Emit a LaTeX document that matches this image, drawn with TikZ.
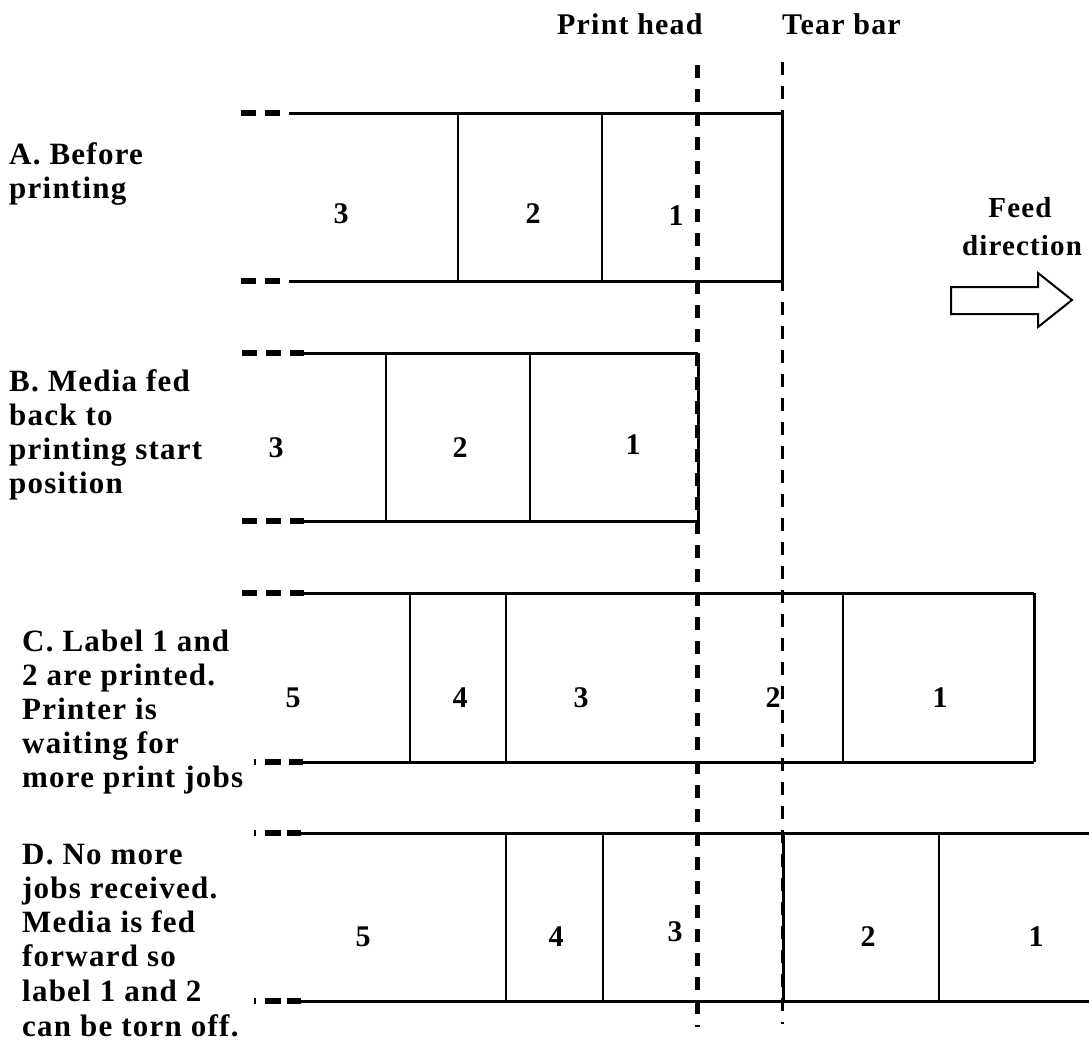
\documentclass[tikz,border=0pt]{standalone}
\usepackage{fontspec}
\setmainfont{Liberation Serif}[LetterSpace=4.0]
\begin{document}
\begin{tikzpicture}[x=1pt,y=-1pt,
  band/.style={line width=3pt},
  divider/.style={line width=2pt},
  lead/.style={line width=6pt, dash pattern=on 15pt off 9pt},
  headline/.style={line width=5pt, dash pattern=on 13pt off 11pt},
  tearline/.style={line width=3pt, dash pattern=on 13pt off 11pt},
  txt/.style={anchor=base west, inner sep=0pt, font=\fontsize{31}{34}\selectfont\bfseries},
  ttxt/.style={anchor=base west, inner sep=0pt, font=\fontsize{30}{34}\selectfont\bfseries},
  ctxt/.style={anchor=base, inner sep=0pt, font=\fontsize{29}{34}\selectfont\bfseries},
  num/.style={inner sep=0pt, font=\fontsize{30}{32}\selectfont\bfseries},
  feed/.style={line width=2pt, fill=white, line join=miter}]
\useasboundingbox (0,0) rectangle (1089,1061);

% titles
\node[ttxt] (ph) at (557,34) {Print head};
\node[ttxt] (tb) at (782,34) {Tear bar};

% feed direction
\node[ctxt] (feed1) at (1020,217) {Feed};
\node[ctxt] (feed2) at (1022,255) {direction};
\draw[feed] (951,287) -- (1038,287) -- (1038,273) -- (1072,300) -- (1038,327) -- (1038,314) -- (951,314) -- cycle;

% left labels
\node[txt] (a1) at (9,164) {A. Before};
\node[txt] (a2) at (9,198) {printing};
\node[txt] (b1) at (9,391) {B. Media fed};
\node[txt] (b2) at (9,425) {back to};
\node[txt] (b3) at (9,459) {printing start};
\node[txt] (b4) at (9,493) {position};
\node[txt] (c1) at (22,651) {C. Label 1 and};
\node[txt] (c2) at (22,685) {2 are printed.};
\node[txt] (c3) at (22,719) {Printer is};
\node[txt] (c4) at (22,753) {waiting for};
\node[txt] (c5) at (22,787) {more print jobs};
\node[txt] (d1) at (22,864) {D. No more};
\node[txt] (d2) at (22,898) {jobs received.};
\node[txt] (d3) at (22,932) {Media is fed};
\node[txt] (d4) at (22,966) {forward so};
\node[txt] (d5) at (22,1001) {label 1 and 2};
\node[txt] (d6) at (22,1036) {can be torn off.};

% Row A
\draw[lead] (241,113) -- (282,113);
\draw[lead] (241,281) -- (282,281);
\draw[band] (289,113) -- (782,113);
\draw[band] (289,281) -- (782,281);
\draw[divider] (458,113) -- (458,281);
\draw[divider] (602,113) -- (602,281);
\draw[band] (782,113) -- (782,281);
\node[num] (a3n) at (341,214) {3};
\node[num] (a2n) at (533,214) {2};
\node[num] (a1n) at (676,216) {1};

% Row B
\draw[lead] (242,353) -- (304,353);
\draw[lead] (242,521) -- (304,521);
\draw[band] (303,353) -- (698,353);
\draw[band] (303,521) -- (698,521);
\draw[divider] (386,353) -- (386,521);
\draw[divider] (530,353) -- (530,521);
\draw[band] (698,353) -- (698,521);
\node[num] (b3n) at (276,448) {3};
\node[num] (b2n) at (460,448) {2};
\node[num] (b1n) at (633,445) {1};

% Row C
\draw[lead] (242,593) -- (304,593);
\draw[lead, dash pattern=on 2pt off 9pt on 16pt off 8pt on 14pt off 50pt] (254,762) -- (304,762);
\draw[band] (303,593) -- (1034,593);
\draw[band] (303,762) -- (1034,762);
\draw[divider] (410,593) -- (410,762);
\draw[divider] (506,593) -- (506,762);
\draw[divider] (843,593) -- (843,762);
\draw[band] (1034,593) -- (1034,762);
\node[num] (c5n) at (293,698) {5};
\node[num] (c4n) at (460,698) {4};
\node[num] (c3n) at (581,698) {3};
\node[num] (c2n) at (773,698) {2};
\node[num] (c1n) at (940,698) {1};

% Row D
\draw[lead, dash pattern=on 2pt off 9pt on 16pt off 6pt on 14pt off 50pt] (254,833) -- (302,833);
\draw[lead, dash pattern=on 2pt off 9pt on 16pt off 6pt on 14pt off 50pt] (254,1001) -- (302,1001);
\draw[band] (301,833) -- (1089,833);
\draw[band] (301,1001) -- (1089,1001);
\draw[divider] (506,833) -- (506,1001);
\draw[divider] (603,833) -- (603,1001);
\draw[band] (783,833) -- (783,1001);
\draw[divider] (939,833) -- (939,1001);
\node[num] (d5n) at (363,937) {5};
\node[num] (d4n) at (556,937) {4};
\node[num] (d3n) at (675,932) {3};
\node[num] (d2n) at (868,937) {2};
\node[num] (d1n) at (1036,937) {1};

% print head and tear bar
\draw[headline] (697.5,65) -- (697.5,1027);
\draw[tearline] (782,62) -- (782,1024);
\end{tikzpicture}
\end{document}
